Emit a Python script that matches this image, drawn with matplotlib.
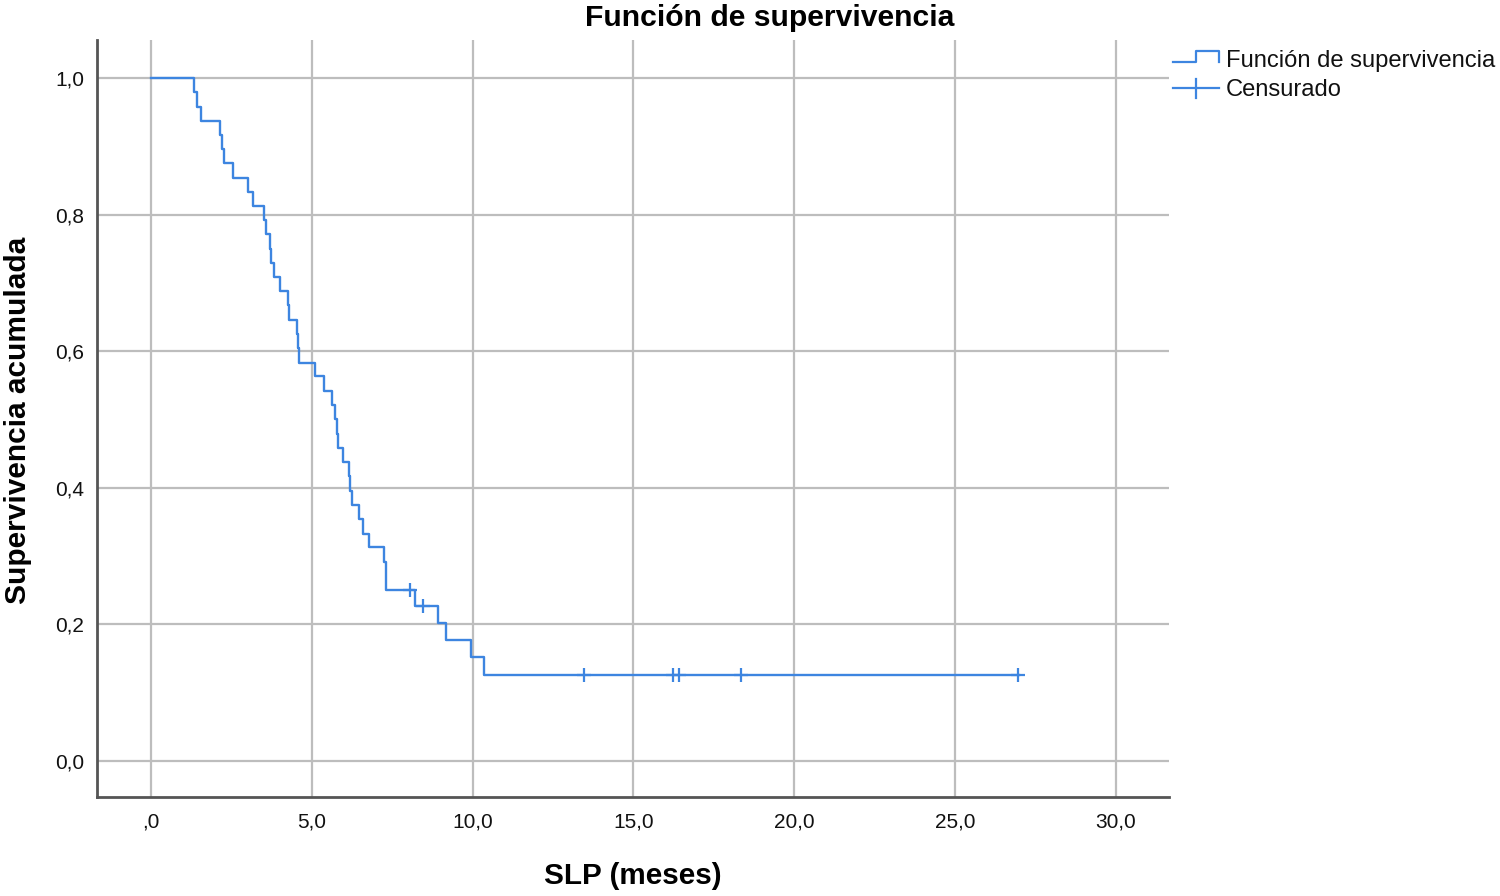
import matplotlib
matplotlib.use("Agg")
import matplotlib.pyplot as plt
from matplotlib.lines import Line2D

# ---- data ----
step_times = [0.0, 1.34, 1.42, 1.55, 2.15, 2.22, 2.27, 2.56, 3.00, 3.16, 3.52, 3.58,
              3.70, 3.73, 3.81, 4.01, 4.25, 4.28, 4.53, 4.56, 4.60, 5.10, 5.37, 5.62,
              5.73, 5.78, 5.82, 5.97, 6.14, 6.19, 6.25, 6.47, 6.58, 6.77, 7.23, 7.31,
              8.22, 8.92, 9.18, 9.95, 10.36, 27.0]
step_surv = [1.000, 0.979, 0.958, 0.9375, 0.917, 0.896, 0.875, 0.854, 0.833, 0.813, 0.792, 0.771,
             0.750, 0.729, 0.708, 0.688, 0.667, 0.646, 0.625, 0.604, 0.583, 0.563, 0.542, 0.521,
             0.500, 0.479, 0.458, 0.438, 0.417, 0.396, 0.375, 0.354, 0.333, 0.313, 0.292, 0.250,
             0.227, 0.202, 0.177, 0.152, 0.126, 0.126]
cens_times = [8.06, 8.46, 13.45, 16.22, 16.43, 18.33, 26.95]
cens_surv = [0.250, 0.227, 0.126, 0.126, 0.126, 0.126, 0.126]

x_ticks = [0, 5, 10, 15, 20, 25, 30]
x_ticklabels = [",0", "5,0", "10,0", "15,0", "20,0", "25,0", "30,0"]
y_ticks = [0.0, 0.2, 0.4, 0.6, 0.8, 1.0]
y_ticklabels = ["0,0", "0,2", "0,4", "0,6", "0,8", "1,0"]

title = "Función de supervivencia"
xlabel = "SLP (meses)"
ylabel = "Supervivencia acumulada"
legend_labels = ["Función de supervivencia", "Censurado"]

# ---- styling ----
plt.rcParams['font.family'] = ['Liberation Sans', 'DejaVu Sans']
blue = "#3d85e0"
grid_c = "#bdbdbd"
spine_c = "#555555"

fig = plt.figure(figsize=(15, 8.96), dpi=100)
ax = fig.add_axes([97/1500, 1-797/896, (1169-97)/1500, (797-40)/896])

ax.step(step_times, step_surv, where='post', color=blue, lw=1.7, zorder=3)
ax.plot(cens_times, cens_surv, linestyle='none', marker='+', markersize=10,
        markeredgewidth=1.6, color=blue, zorder=4)

ax.set_xlim(-1.68, 31.65)
ax.set_ylim(-0.0527, 1.0556)
ax.set_xticks(x_ticks)
ax.set_xticklabels(x_ticklabels)
ax.set_yticks(y_ticks)
ax.set_yticklabels(y_ticklabels)
ax.tick_params(length=0, labelsize=15, colors="#111111", pad=11)
ax.tick_params(axis='y', pad=9)
ax.grid(True, color=grid_c, lw=1.6, zorder=1)
ax.set_axisbelow(True)
for s in ['top', 'right']:
    ax.spines[s].set_visible(False)
for s in ['left', 'bottom']:
    ax.spines[s].set_color(spine_c)
    ax.spines[s].set_linewidth(2)

fig.text(770/1500, 1-18/896, title, ha='center', va='center', fontsize=21.7, fontweight='bold')
fig.text(633/1500, 1-876/896, xlabel, ha='center', va='center', fontsize=21.4, fontweight='bold')
fig.text(18/1500, 1-420/896, ylabel, ha='center', va='center', rotation=90, fontsize=21.5, fontweight='bold')

# legend drawn manually in figure pixel coords
def fx(px):
    return px/1500
def fy(py):
    return 1-py/896

fig.add_artist(Line2D([fx(1173), fx(1196), fx(1196), fx(1219), fx(1219)],
                      [fy(62), fy(62), fy(51), fy(51), fy(62)], color=blue, lw=1.6))
fig.add_artist(Line2D([fx(1173), fx(1219)], [fy(88.5), fy(88.5)], color=blue, lw=1.6))
fig.add_artist(Line2D([fx(1196), fx(1196)], [fy(79), fy(98)], color=blue, lw=1.6))
fig.text(fx(1226), fy(61), legend_labels[0], ha='left', va='center', fontsize=17.1, color="#111111")
fig.text(fx(1226), fy(90), legend_labels[1], ha='left', va='center', fontsize=17.1, color="#111111")

fig.savefig("out.png", dpi=100)
